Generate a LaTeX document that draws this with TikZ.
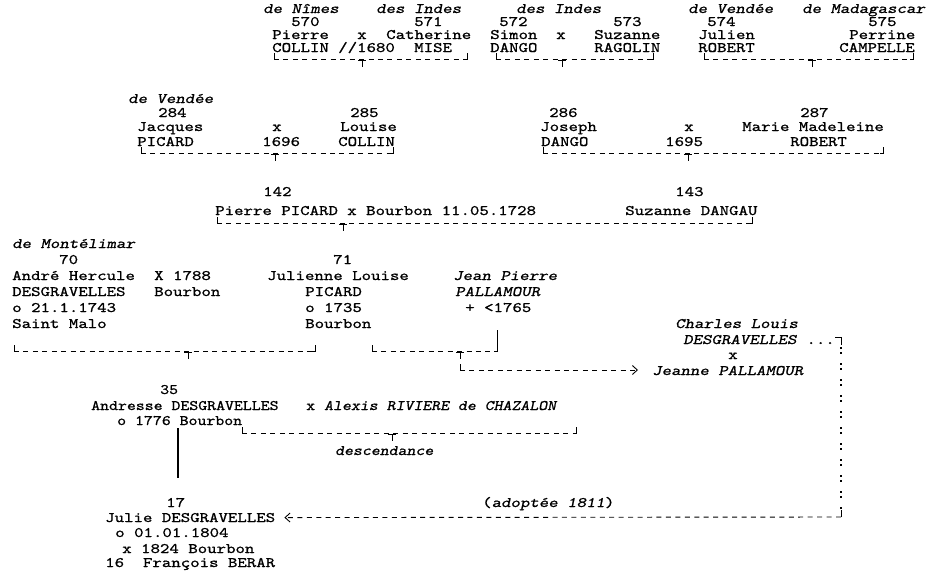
\documentclass[tikz,border=0pt]{standalone}
\usepackage{fontspec}
\usepackage{tikz}
\usetikzlibrary{calc,arrows.meta}
\newfontfamily\gmono{lmmono10-regular.otf}[FakeBold=0.8,SlantedFont=lmmonoslant10-regular.otf]
\newcommand{\gfont}{\fontsize{14.5}{14.5}\selectfont\gmono}
\tikzset{
  txt/.style={anchor=base west,inner sep=0pt,font=\gfont,xscale=1.24},
  obl/.style={txt,font=\gfont\slshape},
  ntxt/.style={txt,xscale=0.945},
  nobl/.style={obl,xscale=0.945},
  brk/.style={line width=0.9pt,dash pattern=on 5pt off 4.45pt},
  tick/.style={line width=0.9pt},
  colons/.style={line width=2pt,dash pattern=on 2pt off 3pt on 2pt off 9pt},
  chev/.style={-{Straight Barb[length=5pt,width=9pt]}}
}
% couple line: left end, right end, child tick, height
\newcommand{\famline}[4]{%
  \draw[brk] (#1,#4) -- (#2,#4);
  \draw[tick] (#1,#4-6) -- (#1,#4) -- (#1+3,#4);
  \draw[tick] (#2,#4-6) -- (#2,#4) -- (#2-3,#4);
  \draw[tick] (#3-4,#4+1) -- (#3+4,#4+1) (#3,#4+1) -- (#3,#4+8);
}

\begin{document}
\begin{tikzpicture}[x=1pt,y=-1pt]
  \useasboundingbox (0,0) rectangle (928,570);
  % generation 570-575
  \node[obl] (o570) at (263,13) {de Nîmes};
  \node[obl] (o571) at (376,13) {des Indes};
  \node[obl] (o572) at (516,13) {des Indes};
  \node[obl] (o574) at (688,13) {de Vendée};
  \node[obl] (o575) at (802,13) {de Madagascar};
  \node[txt] (n570) at (291,26) {570};
  \node[txt] (n571) at (414,26) {571};
  \node[txt] (n572) at (499,26) {572};
  \node[txt] (n573) at (613,26) {573};
  \node[txt] (n574) at (707,26) {574};
  \node[txt] (n575) at (868,26) {575};
  \node[txt] (f570) at (272,39) {Pierre};
  \node[txt] (x570) at (357,39) {x};
  \node[txt] (f571) at (386,39) {Catherine};
  \node[txt] (f572) at (490,39) {Simon};
  \node[txt] (x572) at (556,39) {x};
  \node[txt] (f573) at (594,39) {Suzanne};
  \node[txt] (f574) at (698,39) {Julien};
  \node[txt] (f575) at (849,39) {Perrine};
  \node[txt] (l570) at (272,52) {COLLIN};
  \node[txt] (d570) at (338,52) {//1680};
  \node[txt] (l571) at (414,52) {MISE};
  \node[txt] (l572) at (490,52) {DANGO};
  \node[txt] (l573) at (594,52) {RAGOLIN};
  \node[txt] (l574) at (698,52) {ROBERT};
  \node[txt] (l575) at (839,52) {CAMPELLE};
  \famline{274}{467}{362}{59}
  \famline{496}{653}{562}{59}
  \famline{704}{913}{812}{59}
  % generation 284-287
  \node[obl] (o284) at (128,103) {de Vendée};
  \node[txt] (n284) at (158,117) {284};
  \node[txt] (n285) at (350,117) {285};
  \node[txt] (f284) at (137,131) {Jacques};
  \node[txt] (x284) at (272,131) {x};
  \node[txt] (f285) at (340,131) {Louise};
  \node[txt] (l284) at (137,146) {PICARD};
  \node[txt] (d284) at (262,146) {1696};
  \node[txt] (l285) at (338,146) {COLLIN};
  \famline{141}{393}{275}{153}
  \node[txt] (n286) at (549,117) {286};
  \node[txt] (n287) at (800,117) {287};
  \node[txt] (f286) at (540,131) {Joseph};
  \node[txt] (x286) at (684,131) {x};
  \node[txt] (f287) at (742,131) {Marie Madeleine};
  \node[txt] (l286) at (541,146) {DANGO};
  \node[txt] (d286) at (665,146) {1695};
  \node[txt] (l287) at (790,146) {ROBERT};
  \famline{543}{883}{688}{153}
  % generation 142-143
  \node[txt] (n142) at (263,196) {142};
  \node[txt] (n143) at (675,196) {143};
  \node[txt] (f142) at (215,215) {Pierre PICARD};
  \node[txt] (d142) at (347,215) {x Bourbon 11.05.1728};
  \node[txt] (f143) at (625,215) {Suzanne DANGAU};
  \famline{217}{752}{343}{223}
  % generation 70-71
  \node[obl] (o70) at (12,248) {de Montélimar};
  \node[txt] (n70) at (59,264) {70};
  \node[txt] (n71) at (333,264) {71};
  \node[txt] (f70) at (12,280) {André Hercule};
  \node[txt] (d70) at (154,280) {X 1788};
  \node[txt] (f71) at (267,280) {Julienne Louise};
  \node[txt] (l70) at (12,296) {DESGRAVELLES};
  \node[txt] (p70) at (154,296) {Bourbon};
  \node[txt] (l71) at (305,296) {PICARD};
  \node[txt] (b70) at (12,312) {o 21.1.1743};
  \node[txt] (b71) at (305,312) {o 1735};
  \node[txt] (s70) at (12,328) {Saint Malo};
  \node[txt] (s71) at (305,328) {Bourbon};
  \famline{14}{315}{188}{351}
  \node[obl] (fjp) at (453,280) {Jean Pierre};
  \node[obl] (ljp) at (455,296) {PALLAMOUR};
  \node[txt] (djp) at (465,312) {+ <1765};
  \famline{372}{497}{460}{351}
  \draw[tick] (497,330) -- (497,351);
  % Charles Louis and Jeanne
  \node[obl] (fcl) at (675,328) {Charles Louis};
  \node[obl] (lcl) at (683,344) {DESGRAVELLES};
  \node[txt] (dots) at (lcl.base east) {~...};
  \node[txt] (xcl) at (728,359) {x};
  \node[obl] (jn) at (652,375) {Jeanne PALLAMOUR};
  \coordinate (jpL) at (460,370);
  \coordinate (jnA) at ($(jn.west)+(-14,0)$);
  \draw[tick] (460,364) -- (jpL);
  \draw[brk,chev] (jpL) -- (jpL -| jnA);
  % generation 35
  \node[ntxt] (n35) at (160,394) {35};
  \node[ntxt] (f35) at (91,410) {Andresse DESGRAVELLES};
  \node[ntxt] (x35) at (306,410) {x};
  \node[nobl] (ar) at (324,410) {Alexis RIVIERE de CHAZALON};
  \node[ntxt] (b35) at (117,425) {o 1776 Bourbon};
  \famline{242}{576}{392}{433}
  \node[nobl] (desc) at (335,455) {descendance};
  \draw[line width=1.6pt] (178,428) -- (178,478);
  % generation 17
  \node[txt] (n17) at (166,507) {17};
  \node[txt] (f17) at (105,522) {Julie DESGRAVELLES};
  \node[txt] (b17) at (115,537) {o 01.01.1804};
  \node[txt] (m17) at (122,553) {x 1824 Bourbon};
  \node[txt] (s16) at (105,567) {16~~François BERAR};
  \node[txt] (adopt) at (482,507) {({\slshape adoptée 1811})};
  % adoption line
  \coordinate (adTop) at (841,337);
  \coordinate (adBot) at (841,517);
  \draw[tick] (835,337) -- (adTop) -- (841,345);
  \draw[colons] (841,347) -- (841,510);
  \draw[tick] (841,510) -- (adBot);
  \draw[brk,chev] (adBot) -- ($(f17.east)+(9,0)$);
\end{tikzpicture}
\end{document}
